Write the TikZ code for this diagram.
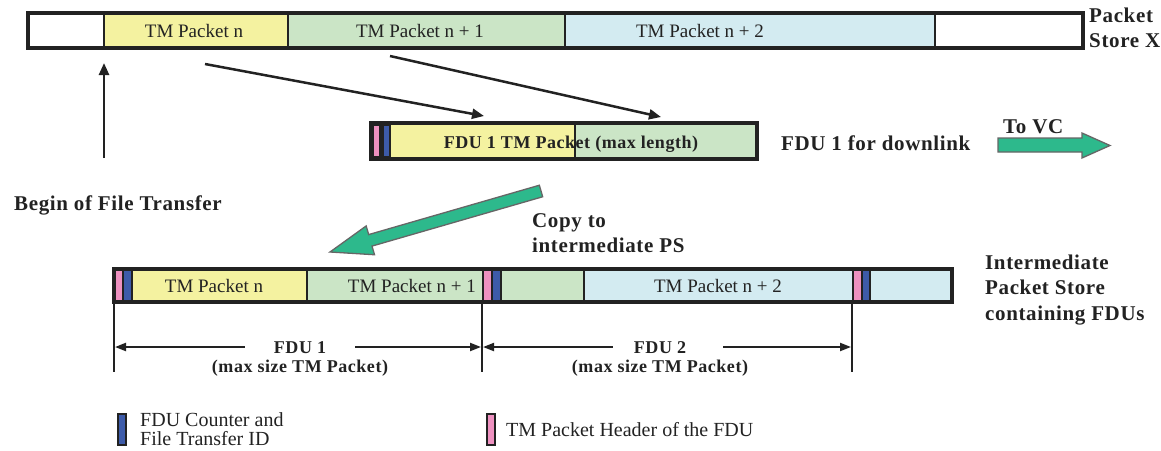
\documentclass[tikz,border=0pt]{standalone}
\usepackage{fontspec}
\setmainfont{Liberation Serif}
\newfontfamily\labelfont[LetterSpace=3]{Liberation Serif}
\usetikzlibrary{arrows.meta,calc}

\definecolor{pkyellow}{HTML}{F4F2A0}
\definecolor{pkgreen}{HTML}{CBE5C6}
\definecolor{pkblue}{HTML}{D3EBF1}
\definecolor{hdrpink}{HTML}{EE91C0}
\definecolor{ctrblue}{HTML}{3D5BA9}
\definecolor{flowgreen}{HTML}{2DB98C}
\definecolor{ink}{HTML}{222222}

% segment of a packet store bar: [style] name, x0, x1, y0, y1, fill
\newcommand\barseg[7][seg]{%
  \node[#1, fill=#7, minimum width={(#4-#3)*1pt}, minimum height={(#6-#5)*1pt}]
    (#2) at (#3,#5) {};}

\tikzset{
  seg/.style={draw=ink, line width=2.8pt, anchor=north west, inner sep=0pt, outer sep=0pt},
  strip/.style={draw=ink, line width=1.2pt, anchor=north west, inner sep=0pt, outer sep=0pt},
  frame/.style={draw=ink, line width=3.4pt},
  celltext/.style={font=\fontsize{19}{22}\selectfont, text=ink, inner sep=0pt, anchor=base},
  boldtext/.style={font=\labelfont\bfseries\fontsize{21}{25.5}\selectfont, text=ink, inner sep=0pt, align=left, anchor=base west},
  smallbold/.style={font=\labelfont\bfseries\fontsize{18}{22}\selectfont, text=ink, inner sep=0pt, anchor=base},
  legendtext/.style={font=\fontsize{20}{20}\selectfont, text=ink, inner sep=0pt, anchor=base west},
  flow/.style={draw=ink, line width=2.5pt, -{Triangle[length=12pt,width=10pt]}},
  dim/.style={draw=ink, line width=2pt, {Triangle[length=11pt,width=8pt]}-{Triangle[length=11pt,width=8pt]}},
  ext/.style={draw=ink, line width=2.2pt},
  blockarrow/.style={fill=flowgreen, draw=black!60, line width=1.3pt, line join=miter},
}

\begin{document}
\begin{tikzpicture}[x=1pt,y=-1pt]
\useasboundingbox (0,0) rectangle (1161,450);

% ---- Packet Store X ----
\barseg{sx0}{28}{104}{13}{48}{white}
\barseg{sx1}{104}{288}{13}{48}{pkyellow}
\barseg{sx2}{288}{565}{13}{48}{pkgreen}
\barseg{sx3}{565}{935}{13}{48}{pkblue}
\barseg{sx4}{935}{1083}{13}{48}{white}
\draw[frame] (sx0.north west) rectangle (sx4.south east);
\node[celltext] (sxl1) at (194,37) {TM Packet n};
\node[celltext] (sxl2) at (420,37) {TM Packet n + 1};
\node[celltext] (sxl3) at (700,37) {TM Packet n + 2};
\node[boldtext] (sxname1) at (1089,22) {Packet};
\node[boldtext] (sxname2) at (1089,47) {Store X};

% ---- FDU 1 for downlink ----
\barseg{fd0}{371}{757}{123}{159}{ink}
\barseg[strip]{fdh}{373}{380}{125}{157}{hdrpink}
\barseg[strip]{fdc}{383}{390}{125}{157}{ctrblue}
\barseg{fd1}{390}{575}{123}{159}{pkyellow}
\barseg{fd2}{575}{757}{123}{159}{pkgreen}
\draw[frame] (fd0.north west) rectangle (fd0.south east);
\node[smallbold] (fdlabel) at (571,148) {FDU 1 TM Packet (max length)};
\node[boldtext] (fdname) at (781,150) {FDU 1 for downlink};

% transfer arrows from the packet store into the FDU
\coordinate (a1s) at (205,64);
\coordinate (a1e) at (484,116);
\coordinate (a2s) at (390,56);
\coordinate (a2e) at (661,117);
\draw[flow] (a1s) -- (a1e);
\draw[flow] (a2s) -- (a2e);

% begin of file transfer
\coordinate (bfs) at (104,158);
\coordinate (bfe) at (104,63);
\draw[flow] (bfs) -- (bfe);
\node[boldtext] (bftext) at (14,210) {Begin of File Transfer};

% ---- To VC block arrow ----
\draw[blockarrow] (998,138) -- (1082,138) -- (1082,133) -- (1110,145.5) -- (1082,158)
  -- (1082,152) -- (998,152) -- cycle;
\node[boldtext] (tovc) at (1003,133) {To VC};

% ---- copy to intermediate PS block arrow ----
\coordinate (ct) at (541,191);
\coordinate (cp) at (330,252);
\coordinate (cb) at ($(cp)!42pt!(ct)$);
\draw[blockarrow] ($(ct)!6pt!90:(cp)$) -- ($(cb)!6pt!-90:(ct)$) -- ($(cb)!15pt!-90:(ct)$)
  -- (cp) -- ($(cb)!15pt!90:(ct)$) -- ($(cb)!6pt!90:(ct)$) -- ($(ct)!6pt!-90:(cp)$) -- cycle;
\node[boldtext] (copytext1) at (532,227) {Copy to};
\node[boldtext] (copytext2) at (532,252) {intermediate PS};

% ---- Intermediate packet store ----
\barseg{ib1}{114}{307}{269}{302}{pkyellow}
\barseg{ib2}{307}{483}{269}{302}{pkgreen}
\barseg{ib3}{483}{584}{269}{302}{pkgreen}
\barseg{ib4}{584}{853}{269}{302}{pkblue}
\barseg{ib5}{853}{952}{269}{302}{pkblue}
\barseg[strip]{ih1}{114}{123}{269}{302}{hdrpink}
\barseg[strip]{ic1}{123}{132}{269}{302}{ctrblue}
\barseg[strip]{ih2}{483}{492}{269}{302}{hdrpink}
\barseg[strip]{ic2}{492}{501}{269}{302}{ctrblue}
\barseg[strip]{ih3}{853}{862}{269}{302}{hdrpink}
\barseg[strip]{ic3}{862}{870}{269}{302}{ctrblue}
\draw[ink, line width=2.4pt] (ic1.north east) -- (ic1.south east);
\draw[ink, line width=2.4pt] (ic2.north east) -- (ic2.south east);
\draw[ink, line width=2.4pt] (ic3.north east) -- (ic3.south east);
\draw[frame] (ib1.north west) rectangle (ib5.south east);
\node[celltext] (ibl1) at (214,292) {TM Packet n};
\node[celltext, anchor=base east] (ibl2) at (476,292) {TM Packet n + 1};
\node[celltext] (ibl3) at (718,292) {TM Packet n + 2};
\node[boldtext] (ibname1) at (985,269) {Intermediate};
\node[boldtext] (ibname2) at (985,294.5) {Packet Store};
\node[boldtext] (ibname3) at (985,320) {containing FDUs};

% FDU extents
\coordinate (e1t) at (114,302); \coordinate (e1b) at (114,372);
\coordinate (e2t) at (482,302); \coordinate (e2b) at (482,372);
\coordinate (e3t) at (852,302); \coordinate (e3b) at (852,372);
\draw[ext] (e1t) -- (e1b);
\draw[ext] (e2t) -- (e2b);
\draw[ext] (e3t) -- (e3b);
\coordinate (d1) at (115,347); \coordinate (d2) at (481,347);
\coordinate (d3) at (483,347); \coordinate (d4) at (851,347);
\draw[dim] (d1) -- (d2);
\draw[dim] (d3) -- (d4);
\fill[white] (245,340) rectangle (355,354);
\fill[white] (613,340) rectangle (723,354);
\node[smallbold] (f1) at (300,353) {FDU 1};
\node[smallbold] (f1s) at (300,372) {(max size TM Packet)};
\node[smallbold] (f2) at (660,353) {FDU 2};
\node[smallbold] (f2s) at (660,372) {(max size TM Packet)};

% ---- legend ----
\node[strip, fill=ctrblue, minimum width=8pt, minimum height=31pt] (lgc) at (118,414) {};
\node[legendtext] (lgct1) at (140,426) {FDU Counter and};
\node[legendtext] (lgct2) at (140,445) {File Transfer ID};
\node[strip, fill=hdrpink, minimum width=8pt, minimum height=31pt] (lgh) at (487,414) {};
\node[legendtext] (lght) at (506,436) {TM Packet Header of the FDU};
\end{tikzpicture}
\end{document}
